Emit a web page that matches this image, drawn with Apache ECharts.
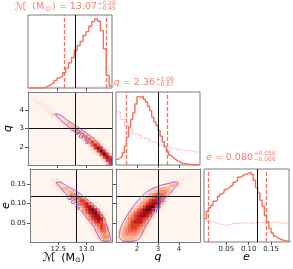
<!DOCTYPE html>
<html>
<head>
<meta charset="utf-8">
<script src="https://cdn.jsdelivr.net/npm/echarts@6.0.0/dist/echarts.min.js"></script>
<style>
html,body{margin:0;padding:0;background:#ffffff;}
#chart{width:293px;height:269px;}
</style>
</head>
<body>
<div id="chart"></div>
<script>
// ================= DATA =================
const mRange = [12.0, 13.45];
const qRange = [1.0, 5.0];
const eRange = [0.0, 0.19];
const histMax = 220;

const mTicks = [12.5, 13.0];
const qTicks = [2, 3, 4];
const eTicks = [0.05, 0.10, 0.15];

const truthM = 12.81;
const truthQ = 3.0;
const truthE = 0.124;

const mQuantiles = [12.62, 13.07, 13.35];
const qQuantiles = [1.49, 2.36, 3.44];
const eQuantiles = [0.014, 0.080, 0.136];

// 1-D posteriors: [first bin edge, bin width] and heights
const mHistBins = [12.0, 0.05];
const mHist = [0,0,0,0,0,1,6,10,16,23,30,36,46,60,76,92,113,128,140,158,170,186,200,208,201,173,118,38,6];
const mPriorBins = [12.0, 0.1];
const mPrior = [2,3,2,2,3,2,2,3,2,2,2,3,2,2,3];

const qHistBins = [1.0, 0.1];
const qHist = [17,21,26,37,57,84,114,137,157,184,206,204,208,198,190,177,164,144,130,120,104,87,70,54,40,30,24,19,14,11,7,5,4,3,2,2,1,1,1,1];
const qPriorBins = [1.0, 0.2];
const qPrior = [160,137,118,108,93,88,81,77,70,67,60,58,52,51,46,46,42,43,39,40];

const eHistBins = [0.0, 0.005];
const eHist = [70,92,103,110,123,124,137,144,150,158,162,168,171,180,185,195,197,203,204,207,211,204,186,164,148,126,107,79,61,41,27,18,13,9,6,5,3,2,1];
const ePriorBins = [0.0, 0.01];
const ePrior = [62,60,57,53,50,54,57,57,58,57,57,58,58,57,58,60,58,57,57,56];

// 2-D densities: 28 columns x 24 rows (top row first), [first column, levels 0-9]
const densityCols = 28;
const densityRows = 24;
const mqDensityRows = [
 [0,""],[0,""],[1,"11"],[2,"111"],[4,"111"],[5,"111"],[6,"111"],[7,"1221"],
 [9,"1221"],[10,"1221"],[11,"12321"],[12,"12331"],[14,"23321"],[15,"13431"],
 [16,"12442"],[18,"24531"],[19,"24642"],[20,"25752"],[21,"26862"],[22,"26962"],
 [23,"26962"],[24,"2686"],[25,"267"],[26,"36"]
];
const meDensityRows = [
 [0,""],[0,""],[0,""],[7,"111"],[8,"1221"],[8,"12221"],[9,"123321"],[10,"1223321"],
 [11,"1234431"],[12,"12345531"],[13,"12346641"],[14,"123567521"],[15,"123578621"],
 [16,"124689731"],[17,"135789621"],[18,"13578851"],[19,"24678731"],[19,"12467631"],
 [20,"12456521"],[21,"1246531"],[21,"1235531"],[22,"123432"],[22,"123442"],[23,"12332"]
];
const qeDensityRows = [
 [0,""],[0,""],[0,""],[20,"111"],[17,"11221"],[14,"11223321"],[11,"122333321"],
 [10,"1223444321"],[9,"1234555421"],[8,"1234566531"],[7,"1234677641"],[6,"12346788621"],
 [5,"12346899631"],[4,"12356899731"],[4,"2356788741"],[3,"1346788752"],[3,"2456776521"],
 [2,"1346777531"],[2,"2356665421"],[1,"1345665421"],[1,"234555432"],[1,"234444321"],
 [1,"23333321"],[1,"1233321"]
];

// 90% contours (['-','-'] = gap where the label sits)
const mqContour = [[12.471,3.80],[12.569,3.727],[12.684,3.436],[12.828,3.145],[12.971,2.836],[13.144,2.418],[13.287,1.927],[13.391,1.473],[13.437,1.145],[13.443,1.073],[13.40,1.11],[13.345,1.327],[13.259,1.618],[13.115,2.055],[13.0,2.345],['-','-'],[12.856,2.69],[12.713,3.055],[12.569,3.436],[12.494,3.69],[12.471,3.80]];
const meContour = [[12.46,0.155],[12.52,0.156],[12.667,0.144],[12.81,0.1336],[12.954,0.118],[13.098,0.1006],[13.213,0.0833],[13.299,0.0659],[13.356,0.0442],[13.402,0.0226],[13.431,0.003],[13.35,0.002],[13.27,0.003],[13.213,0.0139],[13.126,0.0399],[13.012,0.0616],[12.897,0.0833],['-','-'],[12.667,0.1197],[12.56,0.138],[12.46,0.155]];
const qeContour = [[1.143,0.0113],[1.222,0.0373],[1.46,0.0633],[1.778,0.0894],[2.095,0.1111],[2.413,0.1284],[2.73,0.1388],[3.127,0.1475],[3.524,0.1527],[3.841,0.1562],[3.952,0.1518],[3.841,0.1441],[3.603,0.1284],[3.286,0.1111],['-','-'],[2.81,0.0763],[2.571,0.0547],[2.333,0.033],[2.175,0.0139],[2.016,0.0052],[1.698,0.0017],[1.381,0.0017],[1.143,0.0113]];
const mqLabelAt = [12.93, 2.52];
const meLabelAt = [12.78, 0.102];
const qeLabelAt = [3.05, 0.094];

// ================= STYLE =================
const FONT = "'DejaVu Sans', sans-serif";
const LINE = '#f4715f';
const PRIOR = '#f6a195';
const TITLE = '#f77d70';
const CONTOUR = '#7f4fd6';
const FRAME = '#7d7d7d';
const REDS = ['#fff5f0','#feeae0','#fdd3c0','#fcb196','#fb8d6d','#f5664c','#e23c2e','#c41d20','#9d0f17','#6b0510'];

const grids = [
  {left:28, top:15, width:84, height:73},
  {left:28, top:92, width:84, height:73},
  {left:116, top:92, width:84, height:73},
  {left:28, top:169, width:84, height:73},
  {left:116, top:169, width:84, height:73},
  {left:204, top:169, width:85, height:73}
].map((g,i)=>{
  const twoD = (i===1||i===3||i===4);
  return Object.assign(g, {show:true, backgroundColor: twoD ? REDS[0] : '#ffffff',
    borderColor: FRAME, borderWidth: twoD ? 0 : 1});
});

function vAxis(grid, range, ticks, labels, fmt, extra) {
  return Object.assign({
    type:'value', gridIndex:grid, min:range[0], max:range[1], z:10,
    axisLine:{show:false, onZero:false, lineStyle:{color:FRAME, width:1}},
    axisTick:{show:true, inside:false, length:3, customValues:ticks, lineStyle:{color:'#555', width:1}},
    axisLabel:{show:labels, customValues:ticks, formatter:fmt, fontSize:7, color:'#222', fontFamily:FONT, margin:4},
    splitLine:{show:false}
  }, extra || {});
}
function catAxis(grid, n, position) {
  return {type:'category', gridIndex:grid, position, z:10,
    data:Array.from({length:n},(_,i)=>i),
    axisLine:{show:true, onZero:false, lineStyle:{color:FRAME, width:1}},
    axisTick:{show:false}, axisLabel:{show:false}, splitLine:{show:false}};
}
function histY(grid) {
  return {type:'value', gridIndex:grid, min:0, max:histMax, show:false};
}
const fmtM = v => v.toFixed(1);
const fmtQ = v => String(v);
const fmtE = v => v.toFixed(2);
const lineOn = {axisLine:{show:true, onZero:false, lineStyle:{color:FRAME, width:1}}};

const nameStyle = {fontSize:11, fontFamily:FONT, color:'#000'};
function named(name, gap, rotate, style) {
  const o = {name:name, nameLocation:'middle', nameGap:gap, nameMoveOverlap:false,
    nameTextStyle:Object.assign({}, nameStyle, style || {})};
  if (rotate !== undefined) o.nameRotate = rotate;
  return o;
}
const xAxes = [
  vAxis(0, mRange, mTicks, false, fmtM),
  vAxis(1, mRange, mTicks, false, fmtM, lineOn),
  catAxis(1, densityCols, 'top'),
  vAxis(2, qRange, qTicks, false, fmtQ),
  vAxis(3, mRange, mTicks, true, fmtM, Object.assign(named('{c|ℳ} (M{s|⊙})', 10, undefined, {padding:[0,14,0,0], rich:{
        c:{fontSize:12, fontFamily:FONT, color:'#000', fontStyle:'italic', padding:[0,2,0,0]},
        s:{fontSize:7, fontFamily:FONT, color:'#000', padding:[5,0,0,0]}}}), lineOn)),
  catAxis(3, densityCols, 'top'),
  vAxis(4, qRange, qTicks, true, fmtQ, Object.assign(named('q', 10, undefined, {fontStyle:'italic'}), lineOn)),
  catAxis(4, densityCols, 'top'),
  vAxis(5, eRange, eTicks, true, fmtE, named('e', 10, undefined, {fontStyle:'italic'}))
];
const yAxes = [
  histY(0),
  vAxis(1, qRange, qTicks, true, fmtQ, Object.assign(named('q', 14, 90, {fontStyle:'italic'}), lineOn)),
  catAxis(1, densityRows, 'right'),
  histY(2),
  vAxis(3, eRange, eTicks, true, fmtE, Object.assign(named('e', 18, 90, {fontStyle:'italic'}), lineOn)),
  catAxis(3, densityRows, 'right'),
  vAxis(4, eRange, eTicks, false, fmtE, lineOn),
  catAxis(4, densityRows, 'right'),
  histY(5)
];

function stepData(bins, vals) {
  const d = vals.map((v,i)=>[bins[0]+i*bins[1], v]);
  d.push([bins[0]+vals.length*bins[1], vals[vals.length-1]]);
  return d;
}
function histSeries(ax, bins, vals, quant, truth) {
  return {type:'line', xAxisIndex:ax, yAxisIndex:ax, data:stepData(bins, vals), step:'end',
    symbol:'none', silent:true, z:4, lineStyle:{color:LINE, width:1.4},
    markLine:{silent:true, symbol:['none','none'], label:{show:false}, animation:false,
      data:[
        {xAxis:quant[0], lineStyle:{type:[4,2], color:LINE, width:1.3}},
        {xAxis:quant[2], lineStyle:{type:[4,2], color:LINE, width:1.3}},
        {xAxis:truth, lineStyle:{type:'solid', color:'#111', width:1}}
      ]}};
}
function priorSeries(ax, bins, vals) {
  return {type:'line', xAxisIndex:ax, yAxisIndex:ax, data:stepData(bins, vals), step:'end',
    symbol:'none', silent:true, z:3, lineStyle:{color:PRIOR, width:1.1, type:'dotted'}};
}
function heatSeries(ax, rows) {
  const out = [];
  rows.forEach((row, r) => {
    const start = row[0], digits = row[1];
    for (let k = 0; k < digits.length; k++) {
      const v = +digits[k], c = start + k;
      if (v > 0 && c < densityCols) out.push([c, densityRows - 1 - r, v]);
    }
  });
  return {type:'heatmap', xAxisIndex:ax, yAxisIndex:ax, data:out, z:1, silent:true,
    emphasis:{disabled:true}, itemStyle:{borderWidth:0}, progressive:0};
}
function contourSeries(ax, pts, tx, ty) {
  return {type:'line', xAxisIndex:ax, yAxisIndex:ax, data:pts, symbol:'none', silent:true,
    connectNulls:false, smooth:0.3, z:5, lineStyle:{color:CONTOUR, width:0.8},
    markLine:{silent:true, symbol:['none','none'], label:{show:false}, animation:false,
      lineStyle:{type:'solid', color:'#111', width:1},
      data:[{xAxis:tx},{yAxis:ty}]}};
}

const series = [
  histSeries(0, mHistBins, mHist, mQuantiles, truthM),
  priorSeries(0, mPriorBins, mPrior),
  heatSeries(2, mqDensityRows),
  contourSeries(1, mqContour, truthM, truthQ),
  histSeries(3, qHistBins, qHist, qQuantiles, truthQ),
  priorSeries(3, qPriorBins, qPrior),
  heatSeries(5, meDensityRows),
  contourSeries(4, meContour, truthM, truthE),
  heatSeries(7, qeDensityRows),
  contourSeries(6, qeContour, truthQ, truthE),
  histSeries(8, eHistBins, eHist, eQuantiles, truthE),
  priorSeries(8, ePriorBins, ePrior)
];
const heatIdx = series.map((s,i)=>s.type==='heatmap'?i:-1).filter(i=>i>=0);

function titleEls(main, rich, anchorX, cy, quant, digits, size) {
  const up = '+' + (quant[2]-quant[1]).toFixed(digits);
  const dn = '\u2212' + (quant[1]-quant[0]).toFixed(digits);
  return [
    {type:'text', x:anchorX, y:cy, silent:true, style:{text:main, rich:rich, fill:TITLE,
      fontSize:size, fontFamily:FONT, align:'right', verticalAlign:'middle'}},
    {type:'text', x:anchorX+0.5, y:cy-3.8, silent:true, style:{text:up, fill:TITLE,
      fontSize:6, fontFamily:FONT, align:'left', verticalAlign:'middle'}},
    {type:'text', x:anchorX+0.5, y:cy+2.0, silent:true, style:{text:dn, fill:TITLE,
      fontSize:6, fontFamily:FONT, align:'left', verticalAlign:'middle'}}
  ];
}
const richTitle = {
  c:{fontSize:11, fontFamily:FONT, fill:TITLE, fontStyle:'italic', padding:[0,3,0,0]},
  i:{fontSize:9.5, fontFamily:FONT, fill:TITLE, fontStyle:'italic'},
  s:{fontSize:7, fontFamily:FONT, fill:TITLE, padding:[4,1,0,1]}
};
const graphic = [].concat(
  titleEls('{c|ℳ} (M{s|⊙}) = ' + mQuantiles[1].toFixed(2), richTitle, 97, 6.8, mQuantiles, 2, 9.5),
  titleEls('{i|q} = ' + qQuantiles[1].toFixed(2), richTitle, 155, 82.8, qQuantiles, 2, 9.5),
  titleEls('{i|e} = ' + eQuantiles[1].toFixed(3), richTitle, 253, 157.3, eQuantiles, 3, 9.5)
);

const chart = echarts.init(document.getElementById('chart'), null, {renderer:'canvas'});
chart.setOption({
  animation:false,
  backgroundColor:'#ffffff',
  grid:grids,
  xAxis:xAxes,
  yAxis:yAxes,
  visualMap:{show:false, type:'continuous', min:0, max:9, seriesIndex:heatIdx, dimension:2,
    inRange:{color:REDS}},
  series:series,
  graphic:graphic
});

// "90%" contour labels, placed through the contour series' own coordinate systems
const contourLabels = [[3, mqLabelAt, -42], [7, meLabelAt, -46], [9, qeLabelAt, 53]];
contourLabels.forEach(function (cl) {
  const p = chart.convertToPixel({seriesIndex: cl[0]}, cl[1]);
  if (p && isFinite(p[0]) && isFinite(p[1])) {
    graphic.push({type:'text', x:p[0], y:p[1], rotation:cl[2]*Math.PI/180, silent:true, z:100,
      style:{text:'90%', fill:CONTOUR, fontSize:8, fontFamily:FONT, align:'center', verticalAlign:'middle'}});
  }
});
chart.setOption({graphic:graphic});
</script>
</body>
</html>
